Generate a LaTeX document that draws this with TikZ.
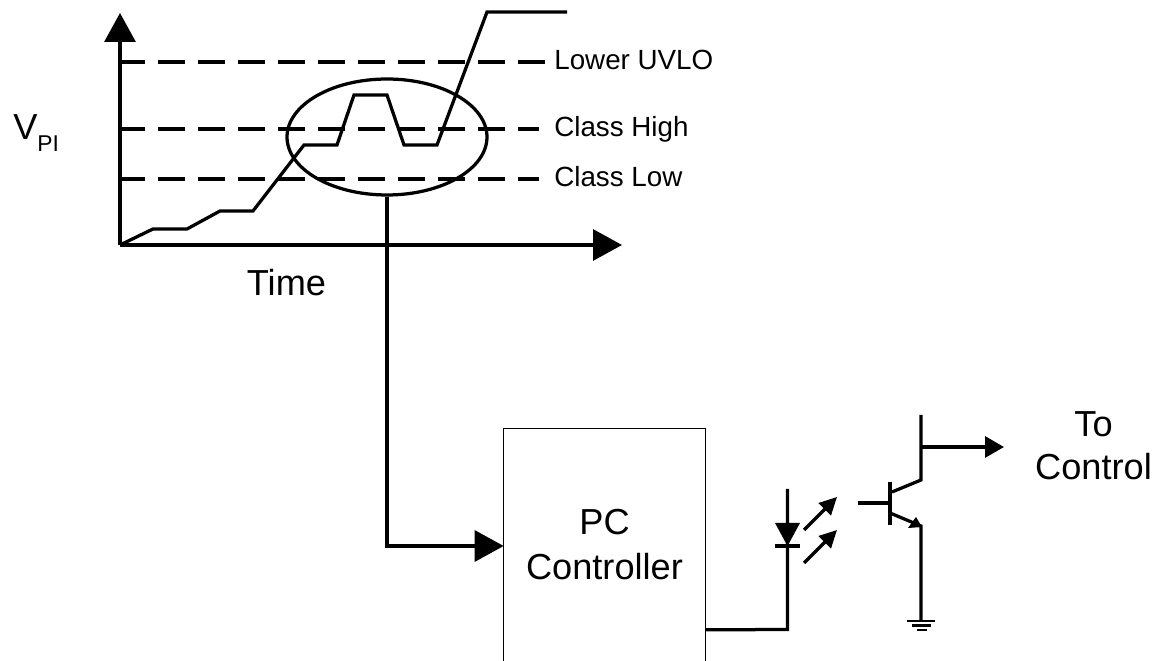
\documentclass[tikz,border=0pt]{standalone}
\usepackage{fontspec}
\setmainfont{Liberation Sans}
\usetikzlibrary{shapes.geometric,arrows.meta,positioning,calc}

\tikzset{
    wire/.style={line width=1.85pt},
    groundbar/.style={line width=1.2pt},
    bigarrow/.style={wire, -{Triangle[length=0.58cm,width=0.62cm]}},
    smallarrow/.style={wire, -{Triangle[length=0.38cm,width=0.42cm]}},
    tinyarrow/.style={wire, -{Triangle[length=0.35cm,width=0.34cm]}},
    level/.style={line width=1.9pt, dash pattern=on 0.54cm off 0.26cm},
    levellabel/.style={anchor=west, inner sep=0pt, inner xsep=0.3cm, text height=0.42cm, text depth=0.1cm, font=\fontsize{15.8pt}{19pt}\selectfont},
    biglabel/.style={inner sep=0pt, align=center, font=\fontsize{20.6pt}{25.6pt}\selectfont}
}

\begin{document}
\begin{tikzpicture}[x=0.02cm, y=-0.02cm]
    \useasboundingbox (0,0) rectangle (1157,661);

    % graph
    \coordinate (origin) at (120,245);
    \coordinate (ytop) at (120,13);
    \coordinate (xend) at (622,245);
    \draw [bigarrow] (origin) -- (ytop);
    \draw [bigarrow] (origin) -- (xend);
    \node (vpi) [biglabel, anchor=base west] at (13,140) {V\raisebox{-0.24cm}{\fontsize{13pt}{16pt}\selectfont PI}};
    \node (time) [biglabel, anchor=base] at (286.5,296) {Time};

    % levels
    \node (lower) [levellabel, inner xsep=0.16cm] at (546,62) {Lower UVLO};
    \node (high) [levellabel] at (539,129) {Class High};
    \node (low) [levellabel] at (539,179) {Class Low};
    \coordinate (lowerstart) at (118,62);
    \coordinate (highstart) at (118,129);
    \coordinate (lowstart) at (118,179);
    \draw [level] (lowerstart) -- (lower.west);
    \draw [level] (highstart) -- (high.west);
    \draw [level] (lowstart) -- (low.west);

    % waveform
    \draw [wire, line join=miter] (origin) -- (153,229) -- (187,229) -- (220,211) -- (253,211) -- (304,145)
        -- (337,145) -- (354,95) -- (387,95) -- (404,145) -- (437,145) -- (487,12) -- (567,12);

    % controller
    \node (zoomring) [draw, wire, ellipse, minimum width=4cm, minimum height=2.32cm, inner sep=0pt] at (387,137) {};
    \node (controller) [biglabel, minimum width=4.02cm, minimum height=4.64cm] at (604.5,544.5) {PC\\Controller};
    \draw [line width=0.5pt] (controller.south west) |- (controller.north east) -- (controller.south east);
    \draw [bigarrow] (zoomring.south) |- ($(controller.west)+(0,1.5)$);

    % opto coupler, diode side
    \coordinate (diodetop) at (787.5,489);
    \coordinate (diodetip) at (787.5,546);
    \coordinate (outcorner) at (787.5,629.5);
    \coordinate (outstart) at ($(controller.south east)+(0,-31)$);
    \draw [wire] (outstart) -- (outcorner) -- (diodetop);
    \fill (775,523) -- (800,523) -- (diodetip) -- cycle;
    \draw [wire] (775,546) -- (800,546);
    \coordinate (ledonestart) at (804,530);
    \coordinate (ledoneend) at (837,497);
    \coordinate (ledtwostart) at (804,563);
    \coordinate (ledtwoend) at (837,530);
    \draw [tinyarrow] (ledonestart) -- (ledoneend);
    \draw [tinyarrow] (ledtwostart) -- (ledtwoend);

    % opto coupler, transistor side
    \coordinate (base) at (858,503);
    \coordinate (basebar) at (890,503);
    \coordinate (collector) at (921,480);
    \coordinate (collectortop) at (921,415);
    \coordinate (tap) at (921,447);
    \coordinate (emitter) at (921,526);
    \coordinate (ground) at (921,621);
    \draw [wire] (base) -- (basebar);
    \draw [wire] (890,482) -- (890,525);
    \draw [wire] (892,492) -- (collector) -- (collectortop);
    \draw [wire] (890,513) -- (emitter) -- (ground);
    \fill (922,527) -- (916,517) -- (908,528) -- cycle;
    \draw [groundbar] (907,621) -- (935,621);
    \draw [groundbar] (912,625.5) -- (931,625.5);
    \draw [groundbar] (917,630) -- (927,630);

    % output
    \node (tocontrol) [biglabel] at (1093.5,445.5) {To\\[-0.04cm]Control};
    \coordinate (tapend) at (1004,447);
    \draw [smallarrow] (tap) -- (tapend);
\end{tikzpicture}
\end{document}
